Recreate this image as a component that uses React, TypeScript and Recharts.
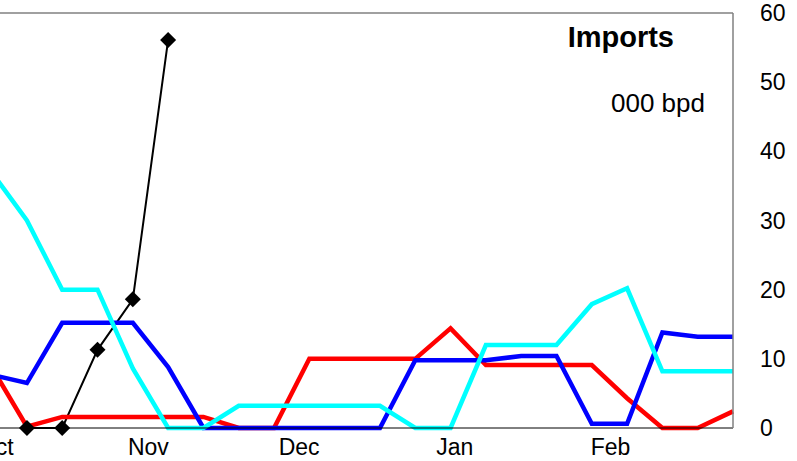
import { LineChart, Line, XAxis, YAxis, ReferenceLine } from 'recharts';

// week index (0 = first full point visible), -1 sits just off the left edge
const weeks = [-1, 0, 1, 2, 3, 4, 5, 6, 7, 8, 9, 10, 11, 12, 13, 14, 15, 16, 17, 18, 19, 20];

const redSeries = [8.8, 0.2, 1.6, 1.6, 1.6, 1.6, 1.6, 0, 0, 10, 10, 10, 10, 14.4, 9.1, 9.1, 9.1, 9.1, 4.3, 0, 0, 2.4];
const blueSeries = [7.7, 6.5, 15.2, 15.2, 15.2, 8.8, 0, 0, 0, 0, 0, 0, 9.8, 9.8, 9.8, 10.4, 10.4, 0.6, 0.6, 13.8, 13.2, 13.2];
const cyanSeries = [37, 30, 20, 20, 8.6, 0, 0, 3.2, 3.2, 3.2, 3.2, 3.2, 0, 0, 12, 12, 12, 17.9, 20.2, 8.2, 8.2, 8.2];
const blackSeries: (number | null)[] = [8.8, 0, 0, 11.3, 18.6, 56.1, null, null, null, null, null, null, null, null, null, null, null, null, null, null, null, null];

const monthTicks = [-0.88, 3.44, 7.71, 12.12, 16.53];
const monthLabels = ['Oct', 'Nov', 'Dec', 'Jan', 'Feb'];
const yTicks = [0, 10, 20, 30, 40, 50, 60];

const data = weeks.map((w, i) => ({
  w,
  red: redSeries[i],
  blue: blueSeries[i],
  cyan: cyanSeries[i],
  black: blackSeries[i],
}));

const font = 'Arial, "Liberation Sans", sans-serif';

const Diamond = (props: any) => {
  const { cx, cy, value } = props;
  if (value == null || cx == null || cy == null) return <g />;
  const r = 8;
  return (
    <polygon
      points={`${cx},${cy - r} ${cx + r},${cy} ${cx},${cy + r} ${cx - r},${cy}`}
      fill="#000"
    />
  );
};

const monthTick = (v: number) => {
  const i = monthTicks.indexOf(v);
  return i >= 0 ? monthLabels[i] : '';
};

export default function App() {
  const shift = 100;
  return (
    <div
      style={{
        position: 'absolute',
        left: 0,
        top: 0,
        width: 797,
        height: 461,
        overflow: 'hidden',
        background: '#fff',
        fontFamily: font,
      }}
    >
      <div style={{ marginLeft: -shift }}>
        <LineChart
          width={797 + shift}
          height={461}
          data={data}
          margin={{ top: 13, right: 0, bottom: 0, left: 21 }}
        >
          <XAxis
            dataKey="w"
            type="number"
            domain={[-3, 20]}
            ticks={monthTicks}
            tickFormatter={monthTick}
            interval={0}
            tickLine={false}
            tickMargin={5}
            height={33}
            axisLine={{ stroke: '#000', strokeWidth: 1 }}
            tick={{ fill: '#000', fontSize: 23, fontFamily: font }}
          />
          <YAxis
            orientation="right"
            domain={[0, 60]}
            ticks={yTicks}
            interval={0}
            width={64}
            tickLine={false}
            tickMargin={21}
            axisLine={{ stroke: '#808080', strokeWidth: 1.5 }}
            tick={{ fill: '#000', fontSize: 23, fontFamily: font }}
          />
          <ReferenceLine y={60} stroke="#808080" strokeWidth={1.5} />
          <Line
            dataKey="black"
            stroke="#000"
            strokeWidth={2}
            dot={<Diamond />}
            activeDot={false}
            isAnimationActive={false}
          />
          <Line dataKey="red" stroke="#ff0000" strokeWidth={4.5} dot={false} isAnimationActive={false} />
          <Line dataKey="blue" stroke="#0000ff" strokeWidth={4.5} dot={false} isAnimationActive={false} />
          <Line dataKey="cyan" stroke="#00ffff" strokeWidth={4.5} dot={false} isAnimationActive={false} />
        </LineChart>
      </div>
      <div
        style={{
          position: 'absolute',
          right: 797 - 674,
          top: 22,
          fontSize: 29,
          fontWeight: 'bold',
          lineHeight: '30px',
        }}
      >
        Imports
      </div>
      <div
        style={{
          position: 'absolute',
          right: 797 - 705,
          top: 88,
          fontSize: 26,
          lineHeight: '30px',
        }}
      >
        000 bpd
      </div>
    </div>
  );
}
